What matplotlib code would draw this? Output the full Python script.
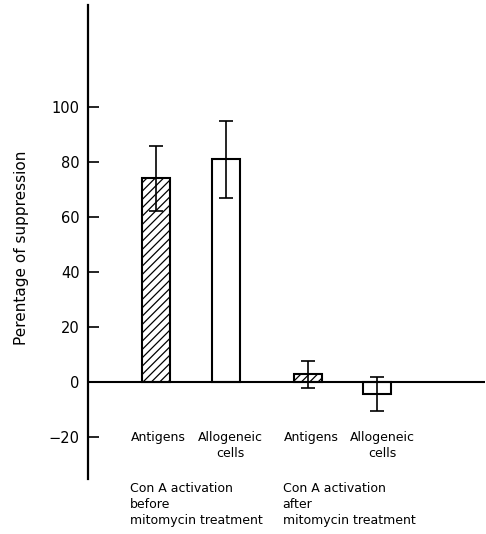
import matplotlib
matplotlib.use("Agg")
import matplotlib.pyplot as plt

# ---- data ----
categories = ["Antigens", "Allogeneic\ncells", "Antigens", "Allogeneic\ncells"]
values = [74, 81, 2.8, -4.4]
errors = [11.7, 14, 5, 6.3]
hatched = [True, False, True, False]
group_labels = ["Con A activation\nbefore\nmitomycin treatment",
                "Con A activation\nafter\nmitomycin treatment"]
yticks = [-20, 0, 20, 40, 60, 80, 100]
ylabel = "Perentage of suppression"

# ---- layout ----
positions = [0, 1, 2.18, 3.18]
label_offsets = [0.03, 0.07, 0.05, 0.08]
group_x = [-0.37, 1.82]
bar_width = 0.40

plt.rcParams['font.family'] = ['DejaVu Sans']
plt.rcParams['hatch.linewidth'] = 0.9

fig = plt.figure(figsize=(4.86, 5.34), dpi=100)
ax = fig.add_axes([87.5/486, 55/534, (485-87.5)/486, 474/534])

for p, v, e, h in zip(positions, values, errors, hatched):
    ax.bar(p, v, width=bar_width, color='white', edgecolor='black',
           linewidth=1.5, hatch='////' if h else None, zorder=2)
    ax.errorbar(p, v, yerr=e, fmt='none', ecolor='black', elinewidth=1.2,
                capsize=4.8, capthick=1.2, zorder=3)

ax.axhline(0, color='black', linewidth=1.5, zorder=4)

ax.set_xlim(-0.986, 4.73)
ax.set_ylim(-35.3, 137.1)
for s in ['top', 'right', 'bottom']:
    ax.spines[s].set_visible(False)
ax.spines['left'].set_linewidth(1.6)
ax.set_xticks([])
ax.set_yticks(yticks)
ax.set_yticklabels([("\u2212" + str(-t)) if t < 0 else str(t) for t in yticks])
ax.tick_params(axis='y', direction='in', length=8, width=1.2, pad=5.5,
               labelsize=10.5)

for p, o, c in zip(positions, label_offsets, categories):
    ax.text(p + o, -17.8, c, ha='center', va='top', fontsize=9,
            multialignment='center', linespacing=1.3, clip_on=False)

for gx, g in zip(group_x, group_labels):
    ax.text(gx, -36.5, g, ha='left', va='top', fontsize=9,
            linespacing=1.3, clip_on=False)

fig.text(22/486, (534-248)/534, ylabel, rotation=90, ha='center',
         va='center', fontsize=11)

fig.savefig("out.png", dpi=100)
